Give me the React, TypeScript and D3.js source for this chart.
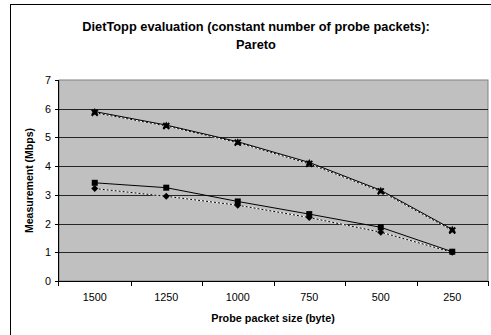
import React from "react";
import * as d3 from "d3";

const categories = ["1500", "1250", "1000", "750", "500", "250"];
const yTicks = [0, 1, 2, 3, 4, 5, 6, 7];
const upperSolid = [5.9, 5.43, 4.85, 4.13, 3.16, 1.8];
const upperDotted = [5.86, 5.4, 4.82, 4.08, 3.12, 1.76];
const lowerSolid = [3.42, 3.25, 2.77, 2.33, 1.87, 1.02];
const lowerDotted = [3.22, 2.95, 2.64, 2.21, 1.7, 1.0];

const W = 491, H = 335;
const m = { left: 59, right: 488, top: 80, bottom: 281 };

export default function App() {
  const x = d3.scaleBand().domain(categories).range([m.left, m.right]);
  const y = d3.scaleLinear().domain([0, 7]).range([m.bottom, m.top]);
  const cx = (c: string) => (x(c) as number) + x.bandwidth() / 2;
  const line = d3
    .line<number>()
    .x((_, i) => cx(categories[i]))
    .y((d) => y(d));
  const font = "Liberation Sans, Arial, sans-serif";

  const square = (px: number, py: number, k: string) => (
    <rect key={k} x={px - 3} y={py - 3} width={6} height={6} fill="#000" />
  );
  const diamond = (px: number, py: number, k: string) => (
    <path key={k} d={`M${px},${py - 3.5}L${px + 3.5},${py}L${px},${py + 3.5}L${px - 3.5},${py}Z`} fill="#000" />
  );
  const tri = (px: number, py: number, k: string) => (
    <path key={k} d={`M${px},${py - 3.5}L${px + 3.5},${py + 3}L${px - 3.5},${py + 3}Z`} fill="#000" />
  );
  const xmark = (px: number, py: number, k: string) => (
    <path key={k} d={`M${px - 3},${py - 3}L${px + 3},${py + 3}M${px + 3},${py - 3}L${px - 3},${py + 3}`} stroke="#000" strokeWidth={2} />
  );

  const series = [
    { data: upperDotted, dotted: true, marker: xmark },
    { data: upperSolid, dotted: false, marker: tri },
    { data: lowerDotted, dotted: true, marker: diamond },
    { data: lowerSolid, dotted: false, marker: square },
  ];

  return (
    <svg width={W} height={H} style={{ position: "absolute", left: 0, top: 0 }}>
      <rect x={0} y={0} width={W} height={H} fill="#fff" />
      <rect x={10.5} y={4.5} width={W} height={H} fill="none" stroke="#000" strokeWidth={1} />
      <text x={256} y={31} textAnchor="middle" fontFamily={font} fontWeight="bold" fontSize={12.8}>
        DietTopp evaluation (constant number of probe packets):
      </text>
      <text x={256} y={49} textAnchor="middle" fontFamily={font} fontWeight="bold" fontSize={12.8}>
        Pareto
      </text>
      <rect x={m.left} y={m.top} width={m.right - m.left} height={m.bottom - m.top} fill="#c0c0c0" stroke="#808080" strokeWidth={1} />
      {yTicks.slice(1, -1).map((t) => (
        <line key={t} x1={m.left} x2={m.right} y1={Math.round(y(t)) + 0.5} y2={Math.round(y(t)) + 0.5} stroke="#000" strokeWidth={1} opacity={0.8} />
      ))}
      <line x1={m.left - 0.5} x2={m.left - 0.5} y1={m.top} y2={m.bottom} stroke="#000" />
      <line x1={m.left} x2={m.right} y1={m.bottom + 0.5} y2={m.bottom + 0.5} stroke="#000" />
      {yTicks.map((t) => (
        <g key={t}>
          <line x1={m.left - 4} x2={m.left} y1={Math.round(y(t)) + 0.5} y2={Math.round(y(t)) + 0.5} stroke="#000" />
          <text x={m.left - 8} y={y(t) + 4} textAnchor="end" fontFamily={font} fontSize={10.8}>
            {t}
          </text>
        </g>
      ))}
      {categories.map((c, i) => (
        <g key={c}>
          <line x1={Math.round((x(c) as number) + x.bandwidth()) + 0.5} x2={Math.round((x(c) as number) + x.bandwidth()) + 0.5} y1={m.bottom} y2={m.bottom + 5} stroke="#000" />
          {i === 0 && <line x1={m.left - 0.5} x2={m.left - 0.5} y1={m.bottom} y2={m.bottom + 5} stroke="#000" />}
          <text x={cx(c)} y={m.bottom + 20} textAnchor="middle" fontFamily={font} fontSize={10.8}>
            {c}
          </text>
        </g>
      ))}
      <text x={273} y={322} textAnchor="middle" fontFamily={font} fontWeight="bold" fontSize={10.8}>
        Probe packet size (byte)
      </text>
      <text transform={`translate(33,${(m.top + m.bottom) / 2}) rotate(-90)`} textAnchor="middle" fontFamily={font} fontWeight="bold" fontSize={10.5}>
        Measurement (Mbps)
      </text>
      {series.map((s, si) => (
        <g key={si}>
          {s.dotted ? (
            <>
              <path d={line(s.data) as string} fill="none" stroke="#fff" strokeWidth={1} />
              <path d={line(s.data) as string} fill="none" stroke="#000" strokeWidth={1} strokeDasharray="2,2" />
            </>
          ) : (
            <path d={line(s.data) as string} fill="none" stroke="#000" strokeWidth={1} />
          )}
          {s.data.map((v, i) => s.marker(cx(categories[i]), y(v), `${si}-${i}`))}
        </g>
      ))}
    </svg>
  );
}
